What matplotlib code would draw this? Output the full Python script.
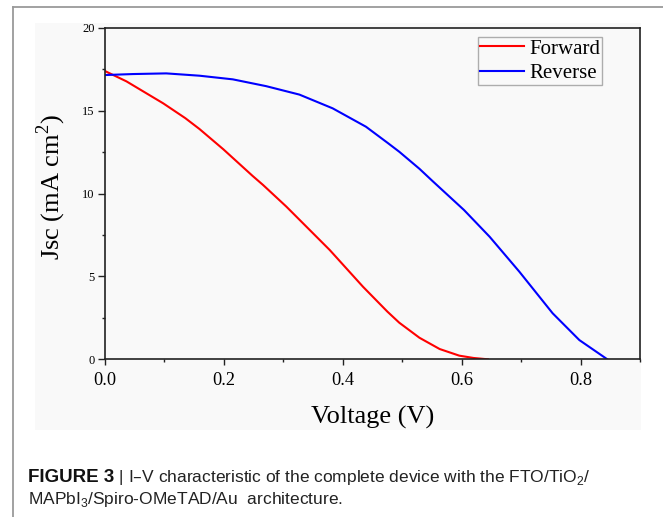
import matplotlib
matplotlib.use("Agg")
import matplotlib.pyplot as plt
from matplotlib.patches import Rectangle
from matplotlib.lines import Line2D
from matplotlib.ticker import MultipleLocator

# ---- data ----
forward_v = [0.000, 0.036, 0.098, 0.135, 0.159, 0.199, 0.248, 0.266, 0.305, 0.322, 0.378,
             0.434, 0.475, 0.495, 0.529, 0.563, 0.596, 0.620, 0.644]
forward_j = [17.40, 16.78, 15.45, 14.56, 13.90, 12.68, 11.08, 10.52, 9.22, 8.61, 6.60,
             4.38, 2.88, 2.21, 1.30, 0.62, 0.22, 0.08, 0.00]

reverse_v = [0.000, 0.047, 0.103, 0.159, 0.215, 0.271, 0.327, 0.383, 0.439, 0.476, 0.495,
             0.529, 0.551, 0.604, 0.647, 0.697, 0.753, 0.798, 0.845]
reverse_j = [17.16, 17.22, 17.26, 17.12, 16.90, 16.49, 15.98, 15.15, 14.04, 13.05, 12.53,
             11.50, 10.76, 9.01, 7.40, 5.29, 2.78, 1.16, 0.00]

series_labels = ["Forward", "Reverse"]
x_ticks = [0.0, 0.2, 0.4, 0.6, 0.8]
x_ticklabels = ["0.0", "0.2", "0.4", "0.6", "0.8"]
y_ticks = [0, 5, 10, 15, 20]
y_ticklabels = ["0", "5", "10", "15", "20"]

W, H = 663, 517
fig = plt.figure(figsize=(W / 100, H / 100), dpi=100)
fig.patch.set_facecolor("white")

def fx(px):
    return px / W

def fy(py):
    return 1 - py / H

panel_col = "#f9f9f9"
fig.patches.append(Rectangle((fx(35), fy(430)), fx(641) - fx(35), fy(23) - fy(430),
                             transform=fig.transFigure, facecolor=panel_col,
                             edgecolor="none", zorder=-5))
# outer frame (left and top)
fig.add_artist(Line2D([fx(12.7), fx(12.7)], [fy(6.5), 0], transform=fig.transFigure,
                      color="#9a9a9a", lw=1.3))
fig.add_artist(Line2D([fx(12.7), 1], [fy(6.5), fy(6.5)], transform=fig.transFigure,
                      color="#9a9a9a", lw=1.3))

ax_l, ax_r, ax_t, ax_b = 105, 640, 28, 359.3
ax = fig.add_axes([fx(ax_l), fy(ax_b), fx(ax_r) - fx(ax_l), fy(ax_t) - fy(ax_b)])
ax.set_facecolor(panel_col)
ax.set_zorder(2)

serif = "Liberation Serif"
ax.plot(forward_v, forward_j, color="#ff0000", lw=1.5, label=series_labels[0])
ax.plot(reverse_v, reverse_j, color="#0000ff", lw=1.5, label=series_labels[1])

ax.set_xlim(0, 0.9)
ax.set_ylim(0, 20)
ax.set_xticks(x_ticks)
ax.set_xticklabels(x_ticklabels, fontfamily=serif, fontsize=13.2)
ax.set_yticks(y_ticks)
ax.set_yticklabels(y_ticklabels, fontfamily=serif, fontsize=9)
ax.xaxis.set_minor_locator(MultipleLocator(0.1))
ax.yaxis.set_minor_locator(MultipleLocator(2.5))
ax.tick_params(axis="both", which="major", direction="out", length=4.5, width=1.0,
               color="#222222")
ax.tick_params(axis="both", which="minor", direction="out", length=2.5, width=1.0,
               color="#222222")
ax.tick_params(axis="x", which="major", pad=5)
ax.tick_params(axis="y", which="major", pad=2.5, length=5)
for s in ax.spines.values():
    s.set_linewidth(1.2)
    s.set_color("#222222")

ax.set_xlabel("Voltage (V)", fontfamily=serif, fontsize=19)
ax.xaxis.set_label_coords(0.5, -0.141)
ax.set_ylabel(r"Jsc (mA cm$^{\mathregular{2}}$)", fontfamily=serif, fontsize=19)
ax.yaxis.set_label_coords(-0.069, 0.519)

leg = ax.legend(loc="upper right", bbox_to_anchor=((602 - ax_l) / (ax_r - ax_l), (ax_b - 37) / (ax_b - ax_t)),
                borderaxespad=0, prop={"family": serif, "size": 15}, fancybox=False,
                frameon=True, handlelength=2.1, handletextpad=0.25, borderpad=0.1,
                labelspacing=0.24)
leg.get_frame().set_edgecolor("#9a9a9a")
leg.get_frame().set_facecolor(panel_col)
leg.get_frame().set_linewidth(1.0)

# caption
cap_font = "Liberation Sans"
cap_size = 12.5
t1 = fig.text(fx(28), fy(482), "FIGURE 3", fontfamily=cap_font, fontweight="bold",
              fontsize=13.5, color="#111111", va="baseline", ha="left")
fig.canvas.draw()
bb = t1.get_window_extent()
fig.text(bb.x1 / W, fy(482), r" | I–V characteristic of the complete device with the FTO/TiO$_\mathregular{2}$/",
         fontfamily=cap_font, fontsize=cap_size, color="#222222", va="baseline", ha="left")
fig.text(fx(28), fy(504), r"MAPbI$_\mathregular{3}$/Spiro-OMeTAD/Au  architecture.",
         fontfamily=cap_font, fontsize=cap_size, color="#222222", va="baseline", ha="left")

fig.savefig("out.png", dpi=100, facecolor="white")
